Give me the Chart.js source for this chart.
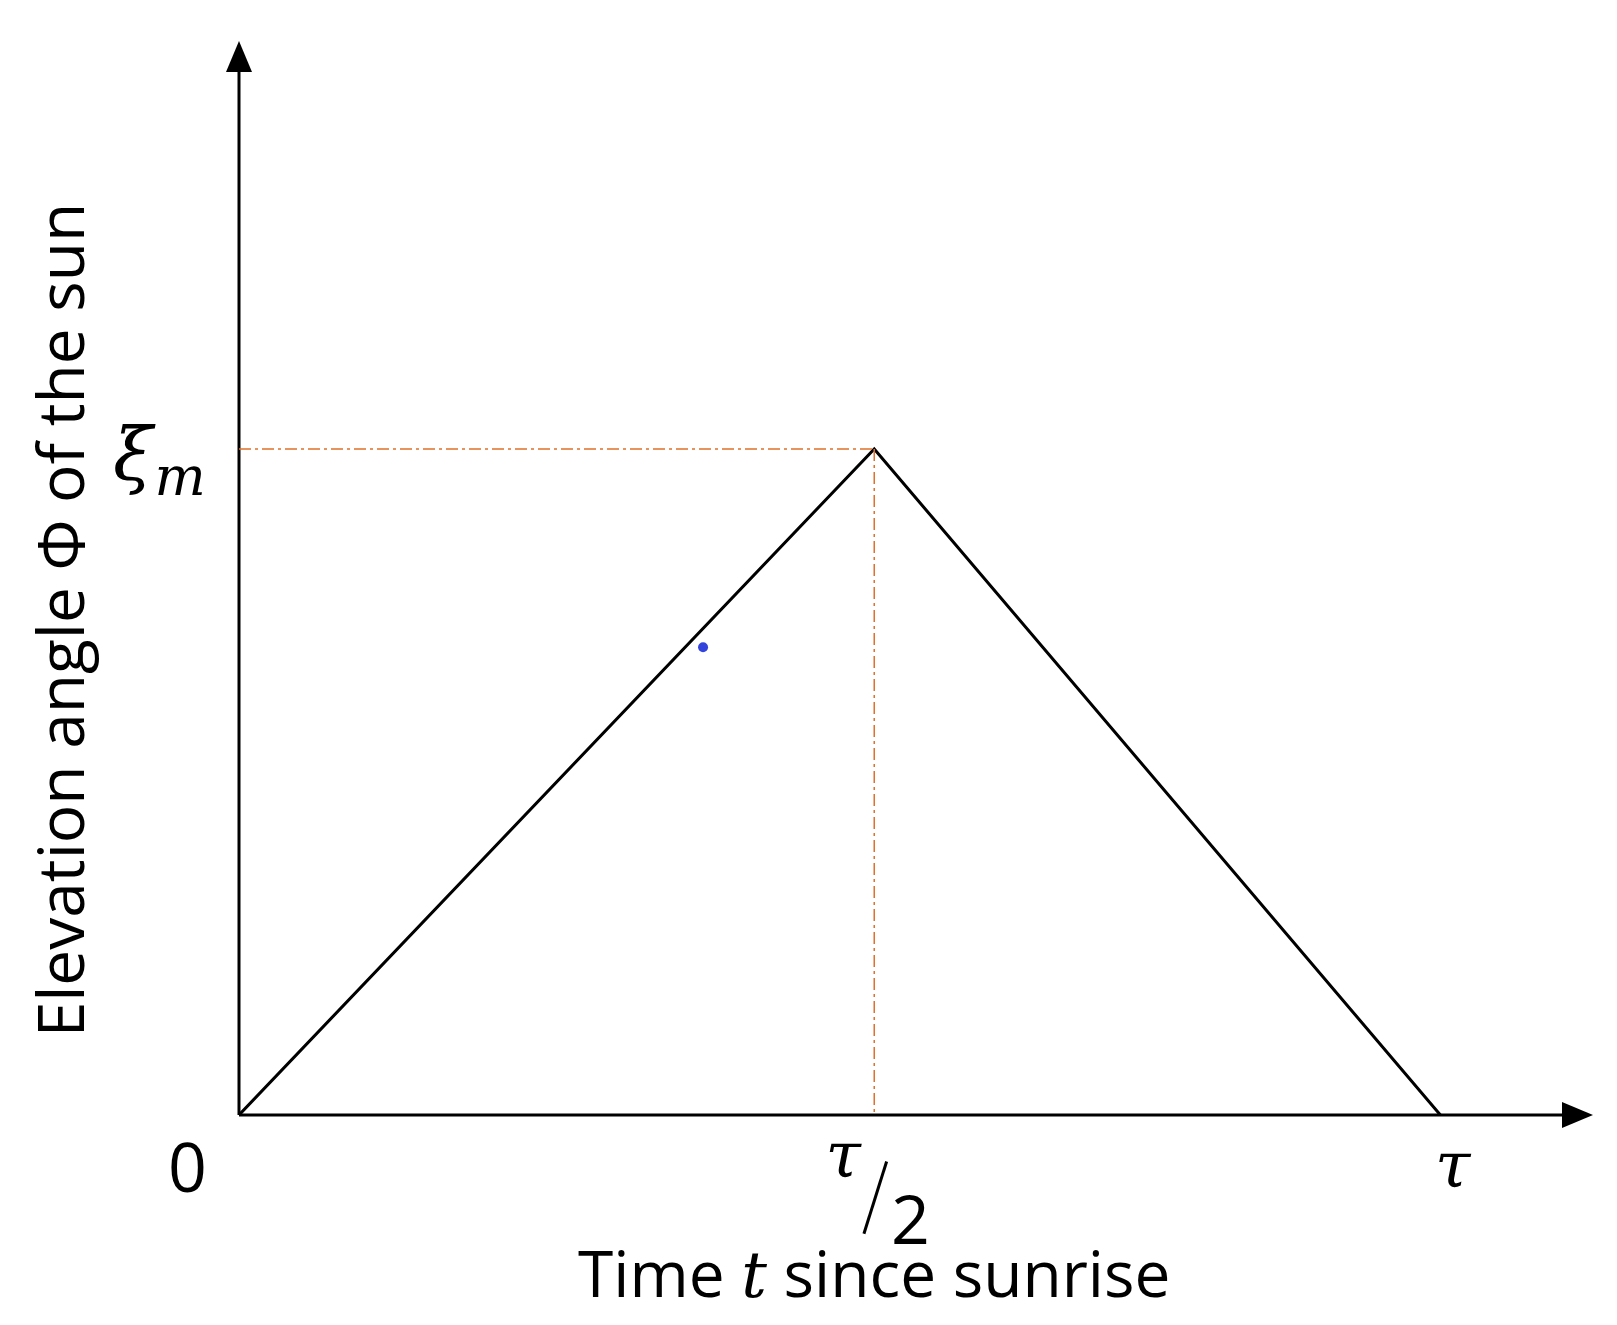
<!DOCTYPE html>
<html><head><meta charset="utf-8">
<script src="https://cdn.jsdelivr.net/npm/chart.js@4/dist/chart.umd.min.js"></script>
<style>html,body{margin:0;background:#fff}#w{width:1617px;height:1325px}</style>
</head><body><div id="w"><canvas id="c"></canvas></div>
<script>
const timeValues=[0,616,1165];
const elevValues=[0,645,0];
const peakX=616, peakY=645;
const dotPoint=[{x:450,y:453}];
const xMax=1313, yMax=1040;
const tickLabels=['0','τ/2','τ'];
const xTitle='Time t since sunrise';
const yTitle='Elevation angle Φ of the sun';
const S=1.032;
const f=(st,n,fam)=>st+' '+Math.round(n*S)+'px '+fam;

const deco={id:'deco',afterDatasetsDraw(ch){
  const c=ch.ctx,x=ch.scales.x,y=ch.scales.y;
  const x0=x.getPixelForValue(0),y0=y.getPixelForValue(0);
  const xe=x.getPixelForValue(xMax),yt=y.getPixelForValue(yMax);
  c.save();
  c.strokeStyle='#000';c.fillStyle='#000';c.lineWidth=3;
  c.beginPath();c.moveTo(x0,y0);c.lineTo(xe-20,y0);c.moveTo(x0,y0);c.lineTo(x0,yt+20);c.stroke();
  c.beginPath();c.moveTo(xe,y0);c.lineTo(xe-31,y0-13);c.lineTo(xe-31,y0+13);c.closePath();c.fill();
  c.beginPath();c.moveTo(x0,yt);c.lineTo(x0-13,yt+31);c.lineTo(x0+13,yt+31);c.closePath();c.fill();
  const px=x.getPixelForValue(peakX),py=y.getPixelForValue(peakY);
  c.strokeStyle='#e0702a';c.lineWidth=1.5;c.setLineDash([12,4,3,4]);
  c.beginPath();c.moveTo(x0,py);c.lineTo(px,py);c.moveTo(px,py);c.lineTo(px,y0);c.stroke();
  c.setLineDash([]);
  c.fillStyle='#000';c.textAlign='center';c.textBaseline='alphabetic';
  c.font=f('',66,'"Open Sans"');c.fillText(tickLabels[0],x0-50*S,y0+75*S);
  c.font=f('italic',62,'"DejaVu Serif"');
  const xt=x.getPixelForValue(timeValues[2]);c.fillText(tickLabels[2],xt+12*S,y0+70*S);
  c.fillText('τ',px-30*S,y0+60*S);
  c.font=f('',66,'"Open Sans"');c.fillText('2',px+35*S,y0+125*S);
  c.lineWidth=3;c.strokeStyle='#000';c.beginPath();c.moveTo(px-10*S,y0+115*S);c.lineTo(px+12*S,y0+45*S);c.stroke();
  c.font=f('italic',70,'"DejaVu Serif"');c.textAlign='left';c.fillText('ξ',x0-122*S,py+30*S);
  c.font=f('italic',52,'"DejaVu Serif"');c.fillText('m',x0-82*S,py+45*S);
  const a='Time ',b='t',d=' since sunrise';
  c.font=f('',62,'"Open Sans"');const wa=c.measureText(a).width,wd=c.measureText(d).width;
  c.font=f('italic',62,'"DejaVu Serif"');const wb=c.measureText(b).width;
  let sx=px-(wa+wb+wd)/2,by=1297;c.textAlign='left';
  c.font=f('',62,'"Open Sans"');c.fillText(a,sx,by);
  c.font=f('italic',62,'"DejaVu Serif"');c.fillText(b,sx+wa,by);
  c.font=f('',62,'"Open Sans"');c.fillText(d,sx+wa+wb,by);
  c.translate(84,620);c.rotate(-Math.PI/2);c.textAlign='center';
  c.font=f('',62,'"Open Sans"');c.fillText(yTitle,0,0);
  c.restore();
}};

new Chart(document.getElementById('c'),{
  type:'scatter',
  data:{datasets:[
    {data:timeValues.map((t,i)=>({x:t,y:elevValues[i]})),showLine:true,borderColor:'#000',borderWidth:3,pointRadius:0,tension:0},
    {data:dotPoint,pointRadius:5,pointBackgroundColor:'#3344dd',pointBorderWidth:0}
  ]},
  options:{responsive:true,maintainAspectRatio:false,animation:false,
    layout:{padding:{left:239,top:41,right:24,bottom:210}},
    plugins:{legend:{display:false},tooltip:{enabled:false}},
    scales:{x:{type:'linear',min:0,max:xMax,display:false},y:{min:0,max:yMax,display:false}}
  },
  plugins:[deco]
});
</script></body></html>
